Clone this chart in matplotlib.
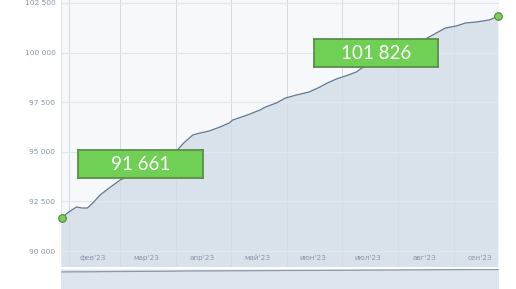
import matplotlib.pyplot as plt

# day of year 2023 (1 = Jan 1) and value
days = [28, 31, 36, 39, 42, 45, 49, 54, 60, 70, 82, 90, 95, 100, 104, 109, 115, 120,
        122, 130, 137, 140, 146, 151, 157, 164, 170, 174, 179, 184, 190, 193, 211,
        228, 234, 239, 245, 250, 256, 263, 268]
values = [91661, 91915, 92218, 92167, 92167, 92419, 92822, 93175, 93578, 93980,
          94435, 94939, 95443, 95846, 95947, 96048, 96250, 96451, 96602, 96854,
          97106, 97258, 97459, 97711, 97862, 98014, 98266, 98467, 98669, 98820,
          99022, 99223, 99878, 100685, 100987, 101239, 101340, 101491, 101542,
          101642, 101826]

month_starts = [32, 60, 91, 121, 152, 182, 213, 244]
month_labels = ["фев'23", "мар'23", "апр'23", "май'23", "июн'23", "июл'23", "авг'23", "сен'23"]
month_mid = [45, 74.5, 105, 135.5, 166, 196.5, 227.5, 258]
yticks = [90000, 92500, 95000, 97500, 100000, 102500]

LINE = '#66788e'
FILL = '#d9e2eb'
BG = '#f6f8fb'
GRID = '#e2e7ed'
TXT = '#8797ab'
GREEN = '#70cf55'
GREEN_EDGE = '#5a8f47'

W, H = 516, 289
fig = plt.figure(figsize=(W / 100, H / 100), dpi=100)
fig.patch.set_facecolor('white')

x0, x1 = 61, 499
ax = fig.add_axes([x0 / W, (H - 267) / H, (x1 - x0) / W, 267 / H])
ax.set_facecolor(BG)
ax.set_xlim(27.5, 268.5)
ax.set_ylim(89194, 102650)

ax.fill_between(days, values, 80000, color=FILL, lw=0, zorder=1)
ax.plot(days, values, color=LINE, lw=0.9, zorder=3)

for m in month_starts:
    ax.axvline(m, color='#d3dbe3', lw=0.7, zorder=2)
for t in yticks:
    ax.axhline(t, color=GRID, lw=0.8, zorder=2)

ax.set_xticks([])
ax.set_yticks(yticks)
ax.set_yticklabels([f'{t:,}'.replace(',', ' ') for t in yticks], fontsize=5.4, color=TXT)
ax.tick_params(axis='y', length=0, pad=4)
for s in ax.spines.values():
    s.set_visible(False)
ax.axvline(27.5, color=GRID, lw=1, zorder=2)

for xm, lab in zip(month_mid, month_labels):
    ax.text(xm, 89194 + 320, lab, ha='center', va='bottom', fontsize=5.2, color=TXT, zorder=4)

# start / end markers
for d, v in [(days[0], values[0]), (days[-1], values[-1])]:
    ax.plot(d, v, 'o', ms=5.5, mfc='#7dcb5a', mec='#4f8a3c', mew=0.8, zorder=6, clip_on=False)

# green value labels
def value_box(xa, xb, ya, yb, text):
    bx = fig.add_axes([xa / W, (H - yb) / H, (xb - xa) / W, (yb - ya) / H])
    bx.set_facecolor(GREEN)
    for s in bx.spines.values():
        s.set_color(GREEN_EDGE)
        s.set_linewidth(1.3)
    bx.set_xticks([])
    bx.set_yticks([])
    bx.text(0.5, 0.47, text, ha='center', va='center', fontsize=13.5, color='white',
            family='Lato', transform=bx.transAxes)

value_box(78, 203, 150, 178, '91 661')
value_box(314, 438, 39, 67, '101 826')

# navigator strip
nav = fig.add_axes([x0 / W, 0, (x1 - x0) / W, 20 / H])
nav.set_xlim(27.5, 268.5)
nav.set_ylim(20000, 104000)
nav.axis('off')
nav.add_patch(plt.Rectangle((0, 0), 1, 1, transform=nav.transAxes, color='#dfe5ec', zorder=0))
nav.axhspan(101500, 104000, color='#eef2f6', lw=0, zorder=1)
nav.plot(days, values, color='#8a98a8', lw=0.9, zorder=2)

fig.savefig('out.png', dpi=100)
